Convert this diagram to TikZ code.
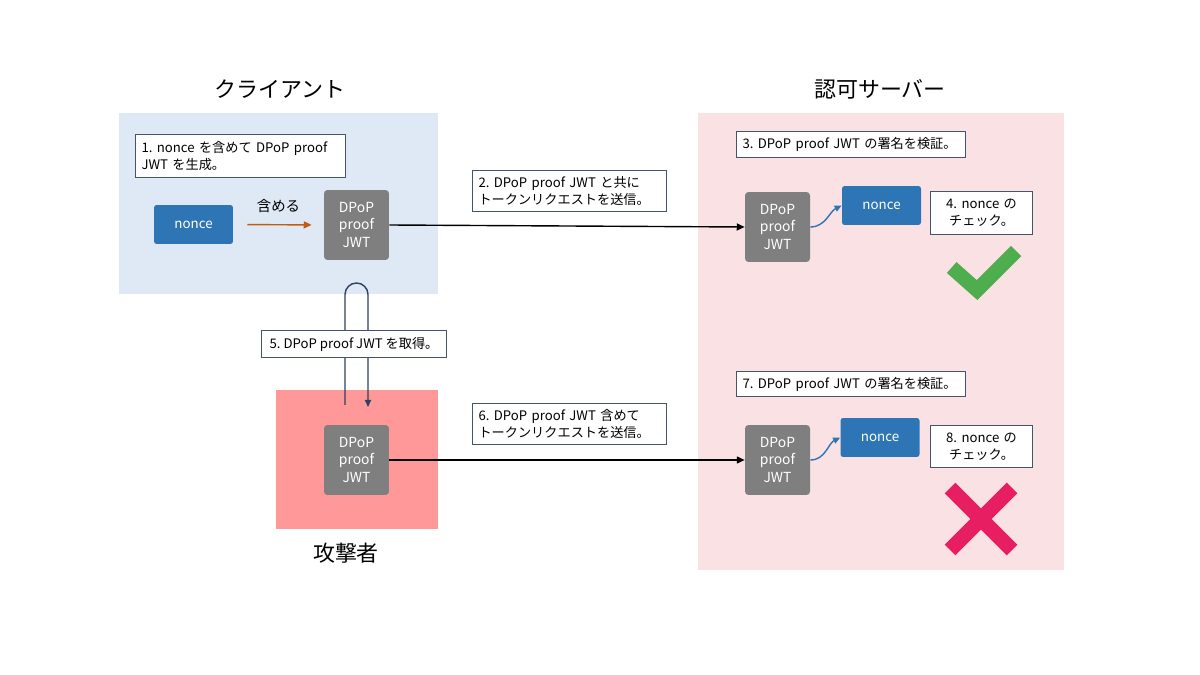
\documentclass[tikz,border=0pt]{standalone}
\usepackage{fontspec}
\setmainfont{Noto Sans CJK JP}
\usetikzlibrary{arrows.meta}
\definecolor{clientbg}{RGB}{222,233,245}
\definecolor{serverbg}{RGB}{249,225,228}
\definecolor{attackerbg}{RGB}{255,153,153}
\definecolor{nonceblue}{RGB}{46,117,182}
\definecolor{jwtgray}{RGB}{127,127,127}
\definecolor{memoline}{RGB}{68,84,106}
\definecolor{loopline}{RGB}{47,64,96}
\definecolor{includeorange}{RGB}{197,90,17}
\definecolor{okgreen}{RGB}{78,173,76}
\definecolor{ngpink}{RGB}{232,30,99}
\frenchspacing

\begin{document}
\begin{tikzpicture}[x=0.02cm,y=-0.02cm,
  region/.style={inner sep=0pt,draw=none,anchor=north west},
  title/.style={font=\fontsize{12.5}{15}\selectfont},
  memo/.style={draw=memoline,fill=white,line width=0.6pt,anchor=north west,
    inner xsep=0.12cm,inner ysep=0pt,font=\fontsize{7.5}{9.6}\selectfont,align=left},
  noncebox/.style={fill=nonceblue,rounded corners=1.5pt,text=white,
    minimum width=1.58cm,minimum height=0.78cm,font=\fontsize{7.6}{9}\selectfont},
  jwtbox/.style={fill=jwtgray,rounded corners=2pt,text=white,align=center,
    minimum width=1.3cm,minimum height=1.4cm,font=\fontsize{7.9}{10}\selectfont},
  send/.style={line width=0.8pt,-{Triangle[length=4.5pt,width=4pt]}},
  verify/.style={draw=nonceblue,line width=0.8pt,-{Triangle[length=4pt,width=3.6pt]}}]
  \useasboundingbox (0,0) rectangle (1200,675);

  % areas
  \node[region,fill=clientbg,minimum width=6.38cm,minimum height=3.62cm] (client) at (119,113) {};
  \node[region,fill=serverbg,minimum width=7.32cm,minimum height=9.14cm] (server) at (698,113) {};
  \node[region,fill=attackerbg,minimum width=3.24cm,minimum height=2.78cm] (attacker) at (276,390) {};
  \node[title] (clienttitle) at (280,89) {クライアント};
  \node[title] (servertitle) at (880,89) {認可サーバー};
  \node[title] (attackertitle) at (346,553) {攻撃者};

  % client
  \node[noncebox] (cnonce) at (193.5,224.5) {nonce};
  \node[jwtbox] (cjwt) at (356.5,225) {DPoP\\proof\\JWT};
  \draw[draw=includeorange,line width=0.8pt,-{Triangle[length=4.5pt,width=4pt]},
    shorten <=0.28cm,shorten >=0.24cm] (cnonce.east) -- node[midway,above=3pt,
    font=\fontsize{8.2}{10}\selectfont] (includelabel) {含める} (cjwt.west);
  \node[memo,text width=3.96cm,minimum height=0.86cm] (step1) at (135,134)
    {1. nonce を含めて DPoP proof\\JWT を生成。};

  % attacker
  \node[jwtbox] (ajwt) at (356.5,460) {DPoP\\proof\\JWT};
  \coordinate (loopin) at (345,405);
  \coordinate (loopout) at (368,407);
  \draw[draw=loopline,line width=0.8pt,rounded corners=0.23cm,
    -{Triangle[length=4pt,width=3.5pt]}] (loopin) -- (345,283) -- (368,283) -- (loopout);
  \node[memo,minimum width=3.7cm,minimum height=0.54cm,align=center] (step5) at (261,330)
    {5. DPoP proof JWT を取得。};

  % server
  \node[jwtbox] (sjwt1) at (777.5,227) {DPoP\\proof\\JWT};
  \node[noncebox] (snonce1) at (881.5,205.5) {nonce};
  \node[jwtbox] (sjwt2) at (777.5,460) {DPoP\\proof\\JWT};
  \node[noncebox] (snonce2) at (880,437.5) {nonce};
  \draw[verify] (sjwt1.east) .. controls +(15,0) and +(-12,6) .. (snonce1.west);
  \draw[verify] (sjwt2.east) .. controls +(15,0) and +(-12,6) .. (snonce2.west);
  \node[memo,text width=4.34cm,minimum height=0.52cm] (step3) at (736,131)
    {3. DPoP proof JWT の署名を検証。};
  \node[memo,text width=1.8cm,minimum height=0.86cm,align=center] (step4) at (930,191)
    {4. nonce の\\チェック。};
  \node[memo,text width=4.34cm,minimum height=0.5cm] (step7) at (736,371)
    {7. DPoP proof JWT の署名を検証。};
  \node[memo,text width=1.8cm,minimum height=0.84cm,align=center] (step8) at (930,425)
    {8. nonce の\\チェック。};

  % requests
  \draw[send] (cjwt.east) -- (sjwt1.west);
  \draw[send] (ajwt.east) -- (sjwt2.west);
  \node[memo,text width=3.64cm,minimum height=0.82cm] (step2) at (472,170)
    {2. DPoP proof JWT と共に\\トークンリクエストを送信。};
  \node[memo,text width=3.64cm,minimum height=0.82cm] (step6) at (472,403)
    {6. DPoP proof JWT 含めて\\トークンリクエストを送信。};

  % results
  \draw[draw=okgreen,line width=0.29cm] (951.7,267.5) -- (977,290) -- (1016,251);
  \draw[draw=ngpink,line width=0.3cm] (950,488) -- (1012,550) (1012,488) -- (950,550);
\end{tikzpicture}
\end{document}
